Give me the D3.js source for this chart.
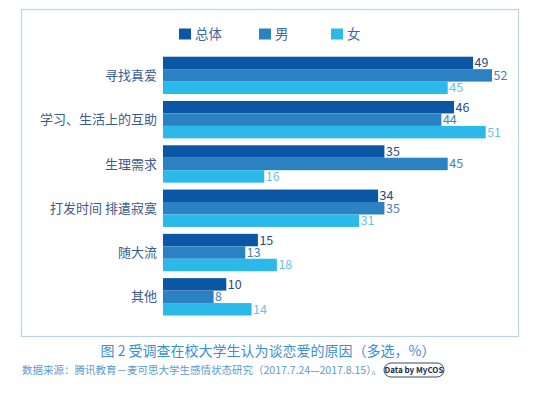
<!DOCTYPE html>
<html>
<head>
<meta charset="utf-8">
<script src="https://cdn.jsdelivr.net/npm/d3@7"></script>
<style>
  html, body { margin: 0; padding: 0; background: #fff; }
  svg text { font-family: "Noto Sans CJK SC", "Noto Sans", sans-serif; }
</style>
</head>
<body>
<svg id="chart" width="537" height="399"></svg>
<script>
// categories and series (percent, multiple choice)
var categories = ["寻找真爱", "学习、生活上的互助", "生理需求", "打发时间 排遣寂寞", "随大流", "其他"];
var seriesNames = ["总体", "男", "女"];
var totalValues = [49, 46, 35, 34, 15, 10];
var maleValues = [52, 44, 45, 35, 13, 8];
var femaleValues = [45, 51, 16, 31, 18, 14];

var caption = "图 2  受调查在校大学生认为谈恋爱的原因（多选，%）";
var source = "数据来源：腾讯教育－麦可思大学生感情状态研究（2017.7.24—2017.8.15）。";

var barColors = ["#0b57a6", "#2b81c1", "#2bb9e9"];
var valueColors = ["#294b84", "#4a7db3", "#66c4ec"];

var svg = d3.select("#chart");

// frame
svg.append("rect")
  .attr("x", 21.5).attr("y", 9.5)
  .attr("width", 497).attr("height", 327)
  .attr("fill", "none")
  .attr("stroke", "#bcd3e2")
  .attr("stroke-width", 1.2);

var x = d3.scaleLinear().domain([0, 52]).range([163, 492]);

var y = d3.scaleBand()
  .domain(categories)
  .range([56.7, 315.5])
  .paddingInner(0.156)
  .paddingOuter(0);

var ySub = d3.scaleBand()
  .domain(seriesNames)
  .range([0, y.bandwidth()])
  .padding(0);

var rows = categories.map(function (c, i) {
  return {
    cat: c,
    vals: [totalValues[i], maleValues[i], femaleValues[i]]
  };
});

var groups = svg.selectAll("g.row")
  .data(rows)
  .enter().append("g")
  .attr("class", "row")
  .attr("transform", function (d) { return "translate(0," + y(d.cat) + ")"; });

groups.selectAll("rect")
  .data(function (d) { return d.vals.map(function (v, k) { return { k: k, v: v }; }); })
  .enter().append("rect")
  .attr("x", x(0))
  .attr("y", function (d) { return ySub(seriesNames[d.k]); })
  .attr("width", function (d) { return x(d.v) - x(0); })
  .attr("height", ySub.bandwidth())
  .attr("fill", function (d) { return barColors[d.k]; });

groups.selectAll("text.val")
  .data(function (d) { return d.vals.map(function (v, k) { return { k: k, v: v }; }); })
  .enter().append("text")
  .attr("class", "val")
  .attr("x", function (d) { return x(d.v) + 1.5; })
  .attr("y", function (d) { return ySub(seriesNames[d.k]) + ySub.bandwidth() / 2; })
  .attr("dy", "0.36em")
  .attr("font-size", 12.5)
  .attr("fill", function (d) { return valueColors[d.k]; })
  .text(function (d) { return d.v; });

// category labels
groups.append("text")
  .attr("x", 157)
  .attr("y", y.bandwidth() / 2)
  .attr("dy", "0.36em")
  .attr("text-anchor", "end")
  .attr("font-size", 13)
  .attr("fill", "#3b5b8e")
  .text(function (d) { return d.cat; });

// legend
var legendX = [179, 259, 331];
var legend = svg.selectAll("g.legend")
  .data(seriesNames)
  .enter().append("g")
  .attr("class", "legend")
  .attr("transform", function (d, i) { return "translate(" + legendX[i] + ",28.5)"; });

legend.append("rect")
  .attr("width", 12).attr("height", 11)
  .attr("fill", function (d, i) { return barColors[i]; });

legend.append("text")
  .attr("x", 16).attr("y", 5.5)
  .attr("dy", "0.36em")
  .attr("font-size", 13.5)
  .attr("fill", "#3a6aa3")
  .text(function (d) { return d; });

// caption + source
svg.append("text")
  .attr("x", 268).attr("y", 351)
  .attr("dy", "0.36em")
  .attr("text-anchor", "middle")
  .attr("font-size", 14)
  .attr("fill", "#3a8fd0")
  .text(caption);

svg.append("text")
  .attr("x", 22).attr("y", 370.5)
  .attr("dy", "0.36em")
  .attr("font-size", 10.5)
  .attr("fill", "#5c9bd2")
  .text(source);

// badge
var badge = svg.append("g").attr("transform", "translate(384,363)");
badge.append("rect")
  .attr("width", 60).attr("height", 14)
  .attr("rx", 7)
  .attr("fill", "#fff")
  .attr("stroke", "#3a4a6a")
  .attr("stroke-width", 1);
badge.append("text")
  .attr("x", 30).attr("y", 7)
  .attr("dy", "0.36em")
  .attr("text-anchor", "middle")
  .attr("font-size", 8)
  .attr("font-weight", "bold")
  .attr("fill", "#1e2a44")
  .text("Data by MyCOS");
</script>
</body>
</html>
